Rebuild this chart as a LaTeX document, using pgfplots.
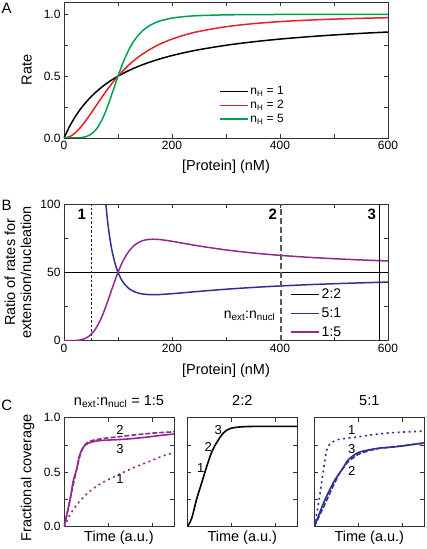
\documentclass[border=0pt]{standalone}
\usepackage{fontspec}
\setmainfont{Liberation Sans}
\usepackage{pgfplots}
\pgfplotsset{compat=1.18}

\definecolor{cred}{RGB}{226,35,40}
\definecolor{cgreen}{RGB}{0,160,80}
\definecolor{cblue}{RGB}{46,49,146}
\definecolor{cpurple}{RGB}{146,39,143}

\pgfplotsset{
  myax/.style={
    scale only axis, anchor=south west,
    axis line style={line width=0.8pt, black!80},
    tick style={line width=0.6pt, black!80},
    major tick length=4pt,
    tick align=inside, tick pos=both,
    tick label style={font=\fontsize{12}{14}\selectfont},
    label style={font=\fontsize{14.5}{17.5}\selectfont},
    /pgf/number format/assume math mode=true,
    legend image code/.code={\draw[##1] (0pt,0pt) -- (28pt,0pt);},
  },
  cax/.style={
    myax, width=110pt, height=109pt,
    xmin=0, xmax=5, ymin=0, ymax=1,
    xtick={2,4}, xticklabels={},
    ytick={0,0.25,0.5,0.75,1}, yticklabels={},
    xlabel={Time (a.u.)},
    xlabel style={at={(axis description cs:0.5,-0.1)}, anchor=center},
    title style={at={(axis description cs:0.5,1.06)}, anchor=base, font=\fontsize{14.5}{17.5}\selectfont},
  },
}

\begin{document}
\begin{tikzpicture}
\useasboundingbox (0pt,0pt) rectangle (426pt,549pt);

\node[font=\fontsize{15}{17}\selectfont] at (6.7pt,540.7pt) {A};
\node[font=\fontsize{15}{17}\selectfont] at (6.7pt,344pt) {B};
\node[font=\fontsize{15}{17}\selectfont] at (6.7pt,144pt) {C};

% ---------------- Panel A ----------------
\begin{axis}[myax, at={(64pt,411pt)}, width=324pt, height=136pt,
  xmin=0, xmax=600, ymin=0, ymax=1.1,
  xtick={0,100,...,600}, xticklabels={0,,200,,400,,600},
  ytick={0,0.25,0.5,0.75,1}, yticklabels={0.0,,0.5,,1.0},
  xlabel={[Protein] (nM)}, ylabel={Rate},
  xlabel style={at={(axis description cs:0.5,-0.211)}, anchor=center},
  ylabel style={at={(axis description cs:-0.115,0.5)}, anchor=center},
  legend style={draw=none, fill=none, at={(axis cs:281,0.45)}, anchor=north west,
    font=\fontsize{12}{14}\selectfont},
  legend cell align=left,
]
\addplot[black, line width=1.5pt, smooth] coordinates {
(0,0) (10,0.0909) (20,0.1667) (30,0.2308) (40,0.2857) (50,0.3333) (60,0.375) (70,0.4118)
(80,0.4444) (90,0.4737) (100,0.5) (110,0.5238) (120,0.5455) (130,0.5652) (140,0.5833)
(150,0.6) (160,0.6154) (170,0.6296) (180,0.6429) (200,0.6667) (225,0.6923) (250,0.7143)
(300,0.75) (350,0.7778) (400,0.8) (450,0.8182) (500,0.8333) (550,0.8462) (600,0.8571)};
\addlegendentry{n\textsubscript{H} = 1}
\addplot[cred, line width=1.5pt, smooth] coordinates {
(0,0) (10,0.0099) (20,0.0385) (30,0.0826) (40,0.1379) (50,0.2) (60,0.2647) (70,0.3289)
(80,0.3902) (90,0.4475) (100,0.5) (110,0.5475) (120,0.5902) (130,0.6283) (140,0.6622)
(150,0.6923) (160,0.7191) (170,0.7429) (180,0.7642) (200,0.8) (225,0.8351) (250,0.8621)
(300,0.9) (350,0.9245) (400,0.9412) (450,0.9529) (500,0.9615) (550,0.968) (600,0.973)};
\addlegendentry{n\textsubscript{H} = 2}
\addplot[cgreen, line width=1.5pt, smooth] coordinates {
(0,0) (10,0.00001) (20,0.0003) (30,0.0024) (40,0.0101) (50,0.0303) (60,0.0721) (70,0.1439)
(80,0.2468) (90,0.3713) (100,0.5) (110,0.6169) (120,0.7133) (130,0.7878) (140,0.8432)
(150,0.8836) (160,0.9129) (170,0.9342) (180,0.9497) (200,0.9697) (225,0.983) (250,0.9899)
(300,0.9959) (350,0.9981) (400,0.999) (450,0.9995) (500,0.9997) (550,0.9998) (600,0.9999)};
\addlegendentry{n\textsubscript{H} = 5}
\end{axis}

% ---------------- Panel B ----------------
\begin{axis}[myax, at={(64pt,208.3pt)}, width=324pt, height=136.7pt,
  xmin=0, xmax=600, ymin=0, ymax=100,
  xtick={0,100,...,600}, xticklabels={0,,200,,400,,600},
  ytick={0,25,50,75,100}, yticklabels={0,,50,,100},
  xlabel={[Protein] (nM)},
  ylabel={\begin{tabular}{c}Ratio of rates for\\[-1.5pt]extension/nucleation\end{tabular}},
  xlabel style={at={(axis description cs:0.5,-0.22)}, anchor=center},
  ylabel style={at={(axis description cs:-0.137,0.5)}, anchor=center},
  legend style={draw=none, fill=none, at={(axis cs:413,41)}, anchor=north west,
    font=\fontsize{14}{17}\selectfont, row sep=3.6pt},
  legend cell align=left,
]
\addplot[black, line width=1.5pt] coordinates {(0,50) (600,50)};
\addlegendentry{2:2}
\addplot[cblue, line width=1.5pt, smooth] coordinates {
(77.5,100) (80,90.0) (82.5,81.7) (85,74.75) (87.5,68.83) (90,63.8) (95,55.84) (100,50)
(105,45.68) (110,42.45) (120,38.23) (130,35.87) (140,34.59) (150,33.95) (160,33.70)
(170,33.70) (180,33.84) (200,34.38) (225,35.22) (250,36.08) (300,37.65) (350,38.96)
(400,40.04) (450,40.93) (500,41.68) (550,42.32) (600,42.86)};
\addlegendentry{5:1}
\addplot[cpurple, line width=1.5pt, smooth] coordinates {
(0,0) (10,0.0055) (20,0.096) (30,0.525) (35,1.008) (40,1.774) (45,2.92) (50,4.545)
(55,6.75) (60,9.62) (65,13.2) (70,17.47) (75,22.38) (80,27.77) (82.5,30.6) (87.5,36.32)
(90,39.19) (95,44.77) (100,50) (105,54.73) (110,58.89) (120,65.39) (130,69.70) (140,72.28)
(150,73.64) (160,74.18) (170,74.18) (180,73.88) (200,72.72) (225,70.98) (250,69.29)
(300,66.40) (350,64.17) (400,62.44) (450,61.08) (500,59.98) (550,59.07) (600,58.33)};
\addlegendentry{1:5}
\addplot[black!85, line width=0.8pt, dash pattern=on 2.5pt off 2pt, forget plot] coordinates {(50,0) (50,100)};
\addplot[black!65, line width=1.4pt, dash pattern=on 6pt off 3pt, forget plot] coordinates {(402,0) (402,100)};
\addplot[black, line width=1pt, forget plot] coordinates {(585,0) (585,100)};
\node[font=\bfseries\fontsize{15}{17}\selectfont, anchor=base] at (axis cs:32.8,88.5) {1};
\node[font=\bfseries\fontsize{15}{17}\selectfont, anchor=base] at (axis cs:386.5,88.5) {2};
\node[font=\bfseries\fontsize{15}{17}\selectfont, anchor=base] at (axis cs:570,88.5) {3};
\node[font=\fontsize{14}{17}\selectfont, anchor=base east] at (axis cs:398,16.4) {n\textsubscript{ext}:n\textsubscript{nucl}};
\end{axis}

% ---------------- Panel C ----------------
\begin{axis}[cax, at={(64pt,22.3pt)},
  yticklabels={0.0,,0.5,,1.0},
  ylabel={Fractional coverage},
  ylabel style={at={(axis description cs:-0.33,0.45)}, anchor=center},
  title={n\textsubscript{ext}:n\textsubscript{nucl} = 1:5},
]
\addplot[cpurple, line width=1.6pt, dash pattern=on 2pt off 3.5pt, smooth] coordinates {
(0,0) (0.1,0.04) (0.27,0.11) (0.58,0.2) (0.88,0.27) (1.33,0.35) (1.8,0.41) (2.4,0.47)
(3.15,0.54) (3.9,0.6) (4.5,0.65) (5,0.68)};
\addplot[cpurple, line width=1.6pt, dash pattern=on 5pt off 2pt] coordinates {
(0,0) (0.2,0.18) (0.4,0.37) (0.6,0.55) (0.75,0.67) (0.9,0.74) (1.05,0.77) (1.25,0.79)
(1.5,0.80) (2,0.815) (2.5,0.825) (3,0.838) (3.5,0.848) (4,0.858) (4.5,0.865) (5,0.87)};
\addplot[cpurple, line width=1.6pt, smooth] coordinates {
(0,0) (0.05,0.04) (0.27,0.24) (0.42,0.42) (0.58,0.53) (0.7,0.65) (0.88,0.73) (1.15,0.77)
(1.64,0.79) (2.55,0.80) (3.2,0.81) (3.9,0.825) (4.5,0.84) (5,0.85)};
\node[font=\fontsize{13}{15}\selectfont] at (axis cs:2.55,0.89) {2};
\node[font=\fontsize{13}{15}\selectfont] at (axis cs:2.55,0.71) {3};
\node[font=\fontsize{13}{15}\selectfont] at (axis cs:2.55,0.44) {1};
\end{axis}

\begin{axis}[cax, at={(187.3pt,22.3pt)}, title={2:2}]
\addplot[black, line width=1.6pt, smooth] coordinates {
(0,0) (0.2,0.077) (0.42,0.25) (0.65,0.4) (0.88,0.55) (1.1,0.68) (1.33,0.77) (1.64,0.86)
(1.94,0.9) (2.39,0.915) (3,0.92) (4,0.92) (5,0.92)};
\node[font=\fontsize{13}{15}\selectfont] at (axis cs:0.61,0.54) {1};
\node[font=\fontsize{13}{15}\selectfont] at (axis cs:0.95,0.73) {2};
\node[font=\fontsize{13}{15}\selectfont] at (axis cs:1.41,0.886) {3};
\end{axis}

\begin{axis}[cax, at={(314.3pt,22.3pt)}, title={5:1}]
\addplot[cblue, line width=1.6pt, dash pattern=on 2pt off 3.5pt, smooth] coordinates {
(0,0) (0.18,0.2) (0.33,0.4) (0.46,0.58) (0.56,0.7) (0.71,0.76) (1.09,0.80) (1.85,0.82)
(2.61,0.843) (3.37,0.86) (4.2,0.87) (5,0.877)};
\addplot[cblue, line width=1.6pt, dash pattern=on 5pt off 2pt] coordinates {
(0,0) (0.3,0.13) (0.6,0.26) (0.94,0.41) (1.2,0.51) (1.55,0.6) (2,0.665) (2.5,0.70)
(3,0.72) (3.5,0.73) (4,0.742) (4.5,0.755) (5,0.765)};
\addplot[cblue, line width=1.6pt, smooth] coordinates {
(0,0) (0.49,0.25) (0.94,0.43) (1.25,0.52) (1.55,0.615) (2,0.68) (2.5,0.705) (2.92,0.72)
(3.5,0.73) (3.98,0.74) (4.5,0.755) (5,0.77)};
\node[font=\fontsize{13}{15}\selectfont] at (axis cs:1.7,0.89) {1};
\node[font=\fontsize{13}{15}\selectfont] at (axis cs:1.7,0.71) {3};
\node[font=\fontsize{13}{15}\selectfont] at (axis cs:1.7,0.51) {2};
\end{axis}
\end{tikzpicture}
\end{document}
